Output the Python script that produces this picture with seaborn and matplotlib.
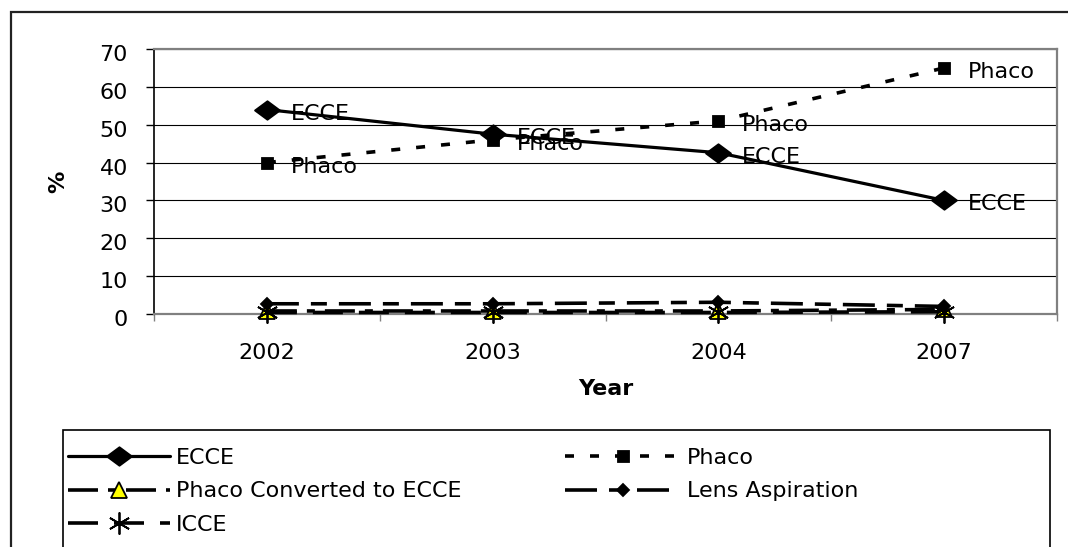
import numpy as np
import matplotlib
matplotlib.use("Agg")
import matplotlib.pyplot as plt
from matplotlib.patches import Rectangle
from matplotlib.path import Path
from matplotlib.transforms import ScaledTranslation
import seaborn as sns

# ---- data -------------------------------------------------------------
years = ["2002", "2003", "2004", "2007"]
ecce = [54, 47.5, 42.6, 30]
phaco = [40, 46, 51, 65]
phaco_converted = [0.8, 0.8, 0.8, 1.2]
lens_aspiration = [2.7, 2.7, 3.1, 2.0]
icce = [0.4, 0.4, 0.4, 0.6]
y_ticks = [0, 10, 20, 30, 40, 50, 60, 70]

# ---- style ------------------------------------------------------------
sns.set_theme(style="white")
plt.rcParams["font.family"] = ["DejaVu Sans"]
plt.rcParams["lines.scale_dashes"] = False

W, H = 1068, 547
PT = 0.72  # points per pixel at 100 dpi
FS = 16


def fx(px):
    return px / W


def fy(py):
    return 1 - py / H


fig = plt.figure(figsize=(W / 100, H / 100), dpi=100)
fig.patch.set_facecolor("white")

left, right, top, bottom = 154, 1057, 49, 314
ax = fig.add_axes([fx(left), fy(bottom), fx(right - left), (bottom - top) / H])
ax.set_facecolor("white")

# wide diamond used for the main ECCE marker
wide_diamond = Path([(-1.35, 0), (0, 1), (1.35, 0), (0, -1), (-1.35, 0)],
                    [Path.MOVETO, Path.LINETO, Path.LINETO, Path.LINETO, Path.CLOSEPOLY])

x = np.arange(len(years))

series = [
    ("ECCE", ecce, dict(color="black", linewidth=3.2 * PT, linestyle="-",
                        marker=wide_diamond, markersize=25 * PT,
                        markerfacecolor="black", markeredgecolor="black")),
    ("Phaco", phaco, dict(color="black", linewidth=3.6 * PT,
                          linestyle=(0, (9 * PT, 16 * PT)),
                          marker="s", markersize=11 * PT,
                          markerfacecolor="black", markeredgecolor="black")),
    ("Phaco Converted to ECCE", phaco_converted,
     dict(color="black", linewidth=3.6 * PT,
          linestyle=(0, (30 * PT, 10 * PT, 8 * PT, 10 * PT)),
          marker="^", markersize=16 * PT,
          markerfacecolor="#FFFF00", markeredgecolor="black")),
    ("Lens Aspiration", lens_aspiration,
     dict(color="black", linewidth=3.6 * PT,
          linestyle=(0, (32 * PT, 12 * PT, 16 * PT, 12 * PT)),
          marker="D", markersize=9 * PT,
          markerfacecolor="black", markeredgecolor="black")),
    ("ICCE", icce, dict(color="black", linewidth=3.6 * PT,
                        linestyle=(0, (30 * PT, 16 * PT)),
                        marker=(6, 2, 0), markersize=22 * PT,
                        markerfacecolor="black", markeredgecolor="black")),
]

handles = {}
for name, vals, style in series:
    sns.lineplot(x=x, y=vals, ax=ax, estimator=None, sort=False,
                 label=name, markeredgewidth=1.3, clip_on=False, zorder=3,
                 **style)
    handles[name] = ax.get_lines()[-1]

if ax.get_legend() is not None:
    ax.get_legend().remove()

# value tags beside the two main series
for name, vals in [("ECCE", ecce), ("Phaco", phaco)]:
    for xi, v in zip(x, vals):
        ax.annotate(name, (xi, v), xytext=(24 * PT, -4 * PT),
                    textcoords="offset points", ha="left", va="center",
                    fontsize=FS, color="black", zorder=4)

# ---- axes -------------------------------------------------------------
ax.set_xlim(-0.5, len(years) - 0.5)
ax.set_ylim(y_ticks[0], y_ticks[-1])
ax.set_yticks(y_ticks)
ax.set_xticks(x, labels=years)
ax.set_xticks(np.arange(len(years) + 1) - 0.5, minor=True)

ax.tick_params(axis="y", which="major", direction="out", length=8 * PT,
               width=1, color="black", pad=13, labelsize=FS, labelcolor="black",
               left=True)
ax.tick_params(axis="x", which="major", length=0, pad=21, labelsize=FS,
               labelcolor="black")
ax.tick_params(axis="x", which="minor", direction="out", length=7 * PT,
               width=1, color="#808080", bottom=True)

# value labels on the y axis sit slightly below their gridlines
shift = ScaledTranslation(0, -4 / 100, fig.dpi_scale_trans)
for lbl in ax.get_yticklabels():
    lbl.set_transform(lbl.get_transform() + shift)

ax.yaxis.grid(True, color="black", linewidth=0.8)
ax.xaxis.grid(False)

for side in ["top", "right", "bottom"]:
    ax.spines[side].set_color("#808080")
    ax.spines[side].set_linewidth(1.6)
ax.spines["left"].set_color("black")
ax.spines["left"].set_linewidth(1.2)

ax.set_xlabel("Year", fontsize=FS, fontweight="bold", color="black")
ax.xaxis.set_label_coords(fx(606 - left) / fx(right - left), -(389 - bottom) / (bottom - top))
ax.xaxis.label.set_va("center")
ax.set_ylabel("%", fontsize=FS, fontweight="bold", color="black")
ax.yaxis.set_label_coords(-(left - 58) / (right - left), 0.5)
ax.yaxis.label.set_va("center")

# ---- legend -----------------------------------------------------------
leg_kw = dict(loc="upper left", frameon=False, fontsize=FS, numpoints=1,
              handletextpad=0.27, labelspacing=0.6, borderpad=0,
              borderaxespad=0, labelcolor="black")
col1 = ["ECCE", "Phaco Converted to ECCE", "ICCE"]
col2 = ["Phaco", "Lens Aspiration"]
fig.legend([handles[n] for n in col1], col1, bbox_to_anchor=(fx(68), fy(448)),
           handlelength=4.6, **leg_kw)
fig.legend([handles[n] for n in col2], col2, bbox_to_anchor=(fx(565), fy(448)),
           handlelength=5.2, **leg_kw)

fig.add_artist(Rectangle((fx(63), fy(570)), fx(1050 - 63), (570 - 430) / H,
                         transform=fig.transFigure, fill=False,
                         edgecolor="black", linewidth=1.2))

# outer chart frame
fig.add_artist(Rectangle((fx(11), fy(580)), fx(1120 - 11), (580 - 12) / H,
                         transform=fig.transFigure, fill=False,
                         edgecolor="#222222", linewidth=1.6))

fig.savefig("out.png", dpi=100, facecolor="white")
